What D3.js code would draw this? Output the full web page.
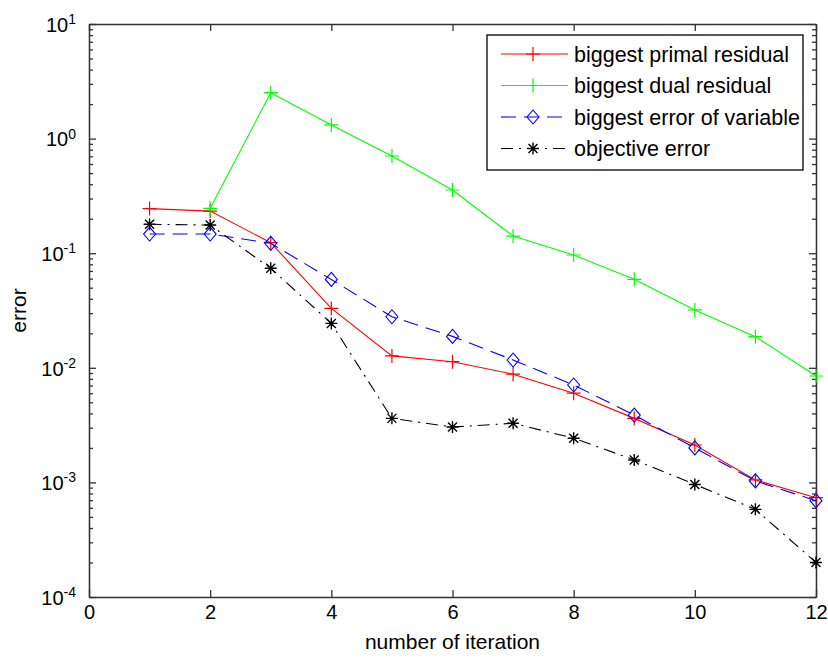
<!DOCTYPE html>
<html><head><meta charset="utf-8">
<script src="https://cdn.jsdelivr.net/npm/d3@7"></script>
<style>
body{margin:0;background:#fff;}
text{font-family:"Liberation Sans",Arial,sans-serif;fill:#000;}
</style></head>
<body><svg id="c" width="828" height="660"></svg>
<script>
const iterations = [1,2,3,4,5,6,7,8,9,10,11,12];
const primalResidual = [0.245,0.233,0.1235,0.033,0.0127,0.0113,0.0088,0.0060,0.00362,0.00212,0.00105,0.000735];
const dualResidual = [null,0.2465,2.515,1.315,0.705,0.356,0.141,0.0964,0.0592,0.0320,0.0187,0.00848];
const variableError = [0.147,0.147,0.122,0.059,0.0279,0.0188,0.0117,0.00708,0.00387,0.0020,0.00103,0.000692];
const objectiveError = [0.1787,0.176,0.0738,0.0244,0.00362,0.00304,0.00328,0.00243,0.00157,0.00096,0.000582,0.0002];
const xTicks = [0,2,4,6,8,10,12];
const yExponents = [-4,-3,-2,-1,0,1];
const seriesNames = ["biggest primal residual","biggest dual residual","biggest error of variable","objective error"];

const series = [
  {name:seriesNames[0], values:primalResidual, color:"#ff0000", dash:null, marker:"plus"},
  {name:seriesNames[1], values:dualResidual, color:"#00ff00", dash:null, marker:"plus"},
  {name:seriesNames[2], values:variableError, color:"#0000ff", dash:"15,8", marker:"diamond"},
  {name:seriesNames[3], values:objectiveError, color:"#000000", dash:"12,6,2,6", marker:"star"}
];

const svg = d3.select("#c");
const L=89, R=816, T=24, B=597;
const x = d3.scaleLinear().domain([0,12]).range([L,R]);
const y = d3.scaleLog().domain([1e-4,10]).range([B,T]);

const majors = yExponents.map(e=>Math.pow(10,e));
const minors = [];
for (let e=-4;e<1;e++) for (let m=2;m<=9;m++) minors.push(m*Math.pow(10,e));

const axisColor="#333";
function styleAxis(g){ g.selectAll("path,line").attr("stroke",axisColor).attr("stroke-width",1.3); g.selectAll("text").style("font-size","20px").style("font-family","Liberation Sans, Arial, sans-serif").attr("fill","#000"); }

svg.append("g").attr("transform",`translate(0,${B})`)
  .call(d3.axisBottom(x).tickValues(xTicks).tickSizeInner(-7).tickSizeOuter(0).tickPadding(8).tickFormat(d3.format("d")))
  .call(styleAxis);
svg.append("g").attr("transform",`translate(0,${T})`)
  .call(d3.axisTop(x).tickValues(xTicks).tickSizeInner(-7).tickSizeOuter(0).tickFormat(""))
  .call(styleAxis);
const gl = svg.append("g").attr("transform",`translate(${L},0)`)
  .call(d3.axisLeft(y).tickValues(majors).tickSizeInner(-7).tickSizeOuter(0).tickPadding(20).tickFormat(""))
  .call(styleAxis);
gl.selectAll(".tick").each(function(d){
  const e = Math.round(Math.log10(d));
  const t = d3.select(this).append("text").attr("x",-13).attr("dy","0.36em").attr("text-anchor","end")
    .style("font-size","20px").attr("fill","#000");
  t.append("tspan").text("10");
  t.append("tspan").attr("dy","-0.55em").style("font-size","14px").text(String(e));
});
svg.append("g").attr("transform",`translate(${L},0)`)
  .call(d3.axisLeft(y).tickValues(minors).tickSizeInner(-4).tickSizeOuter(0).tickFormat(""))
  .call(styleAxis);
svg.append("g").attr("transform",`translate(${R},0)`)
  .call(d3.axisRight(y).tickValues(majors).tickSizeInner(-7).tickSizeOuter(0).tickFormat(""))
  .call(styleAxis);
svg.append("g").attr("transform",`translate(${R},0)`)
  .call(d3.axisRight(y).tickValues(minors).tickSizeInner(-4).tickSizeOuter(0).tickFormat(""))
  .call(styleAxis);

svg.append("text").attr("x",(L+R)/2).attr("y",649).attr("text-anchor","middle").style("font-size","21px").text("number of iteration");
svg.append("text").attr("transform",`translate(26,${(T+B)/2}) rotate(-90)`).attr("text-anchor","middle").style("font-size","21px").text("error");

function drawMarker(g, type, cx, cy, color){
  if (type==="plus"){
    g.append("path").attr("d",`M${cx-7},${cy}H${cx+7}M${cx},${cy-7}V${cy+7}`).attr("stroke",color).attr("stroke-width",1.2).attr("fill","none");
  } else if (type==="diamond"){
    g.append("path").attr("d",`M${cx},${cy-7}L${cx+6},${cy}L${cx},${cy+7}L${cx-6},${cy}Z`).attr("stroke",color).attr("stroke-width",1.1).attr("fill","none");
  } else {
    const r=6, s=4.5;
    g.append("path").attr("d",`M${cx-r},${cy}H${cx+r}M${cx},${cy-r}V${cy+r}M${cx-s},${cy-s}L${cx+s},${cy+s}M${cx-s},${cy+s}L${cx+s},${cy-s}`).attr("stroke",color).attr("stroke-width",1.4).attr("fill","none");
  }
}

const line = d3.line().defined(d=>d[1]!=null).x(d=>x(d[0])).y(d=>y(d[1]));
series.forEach(s=>{
  const pts = iterations.map((it,i)=>[it,s.values[i]]);
  const g = svg.append("g");
  g.append("path").datum(pts).attr("d",line).attr("fill","none").attr("stroke",s.color).attr("stroke-width",1.1)
    .attr("stroke-dasharray",s.dash);
  pts.filter(p=>p[1]!=null).forEach(p=>drawMarker(g,s.marker,x(p[0]),y(p[1]),s.color));
});

const lg = svg.append("g");
lg.append("rect").attr("x",487).attr("y",35).attr("width",316).attr("height",135).attr("fill","#fff").attr("stroke","#000").attr("stroke-width",1.3);
series.forEach((s,i)=>{
  const yy = 54 + i*31.5;
  lg.append("line").attr("x1",501).attr("x2",568).attr("y1",yy).attr("y2",yy).attr("stroke",s.color).attr("stroke-width",1.1).attr("stroke-dasharray",s.dash);
  drawMarker(lg,s.marker,533,yy,s.color);
  lg.append("text").attr("x",574).attr("y",yy).attr("dy","0.35em").style("font-size","21.5px").text(s.name);
});
</script></body></html>
